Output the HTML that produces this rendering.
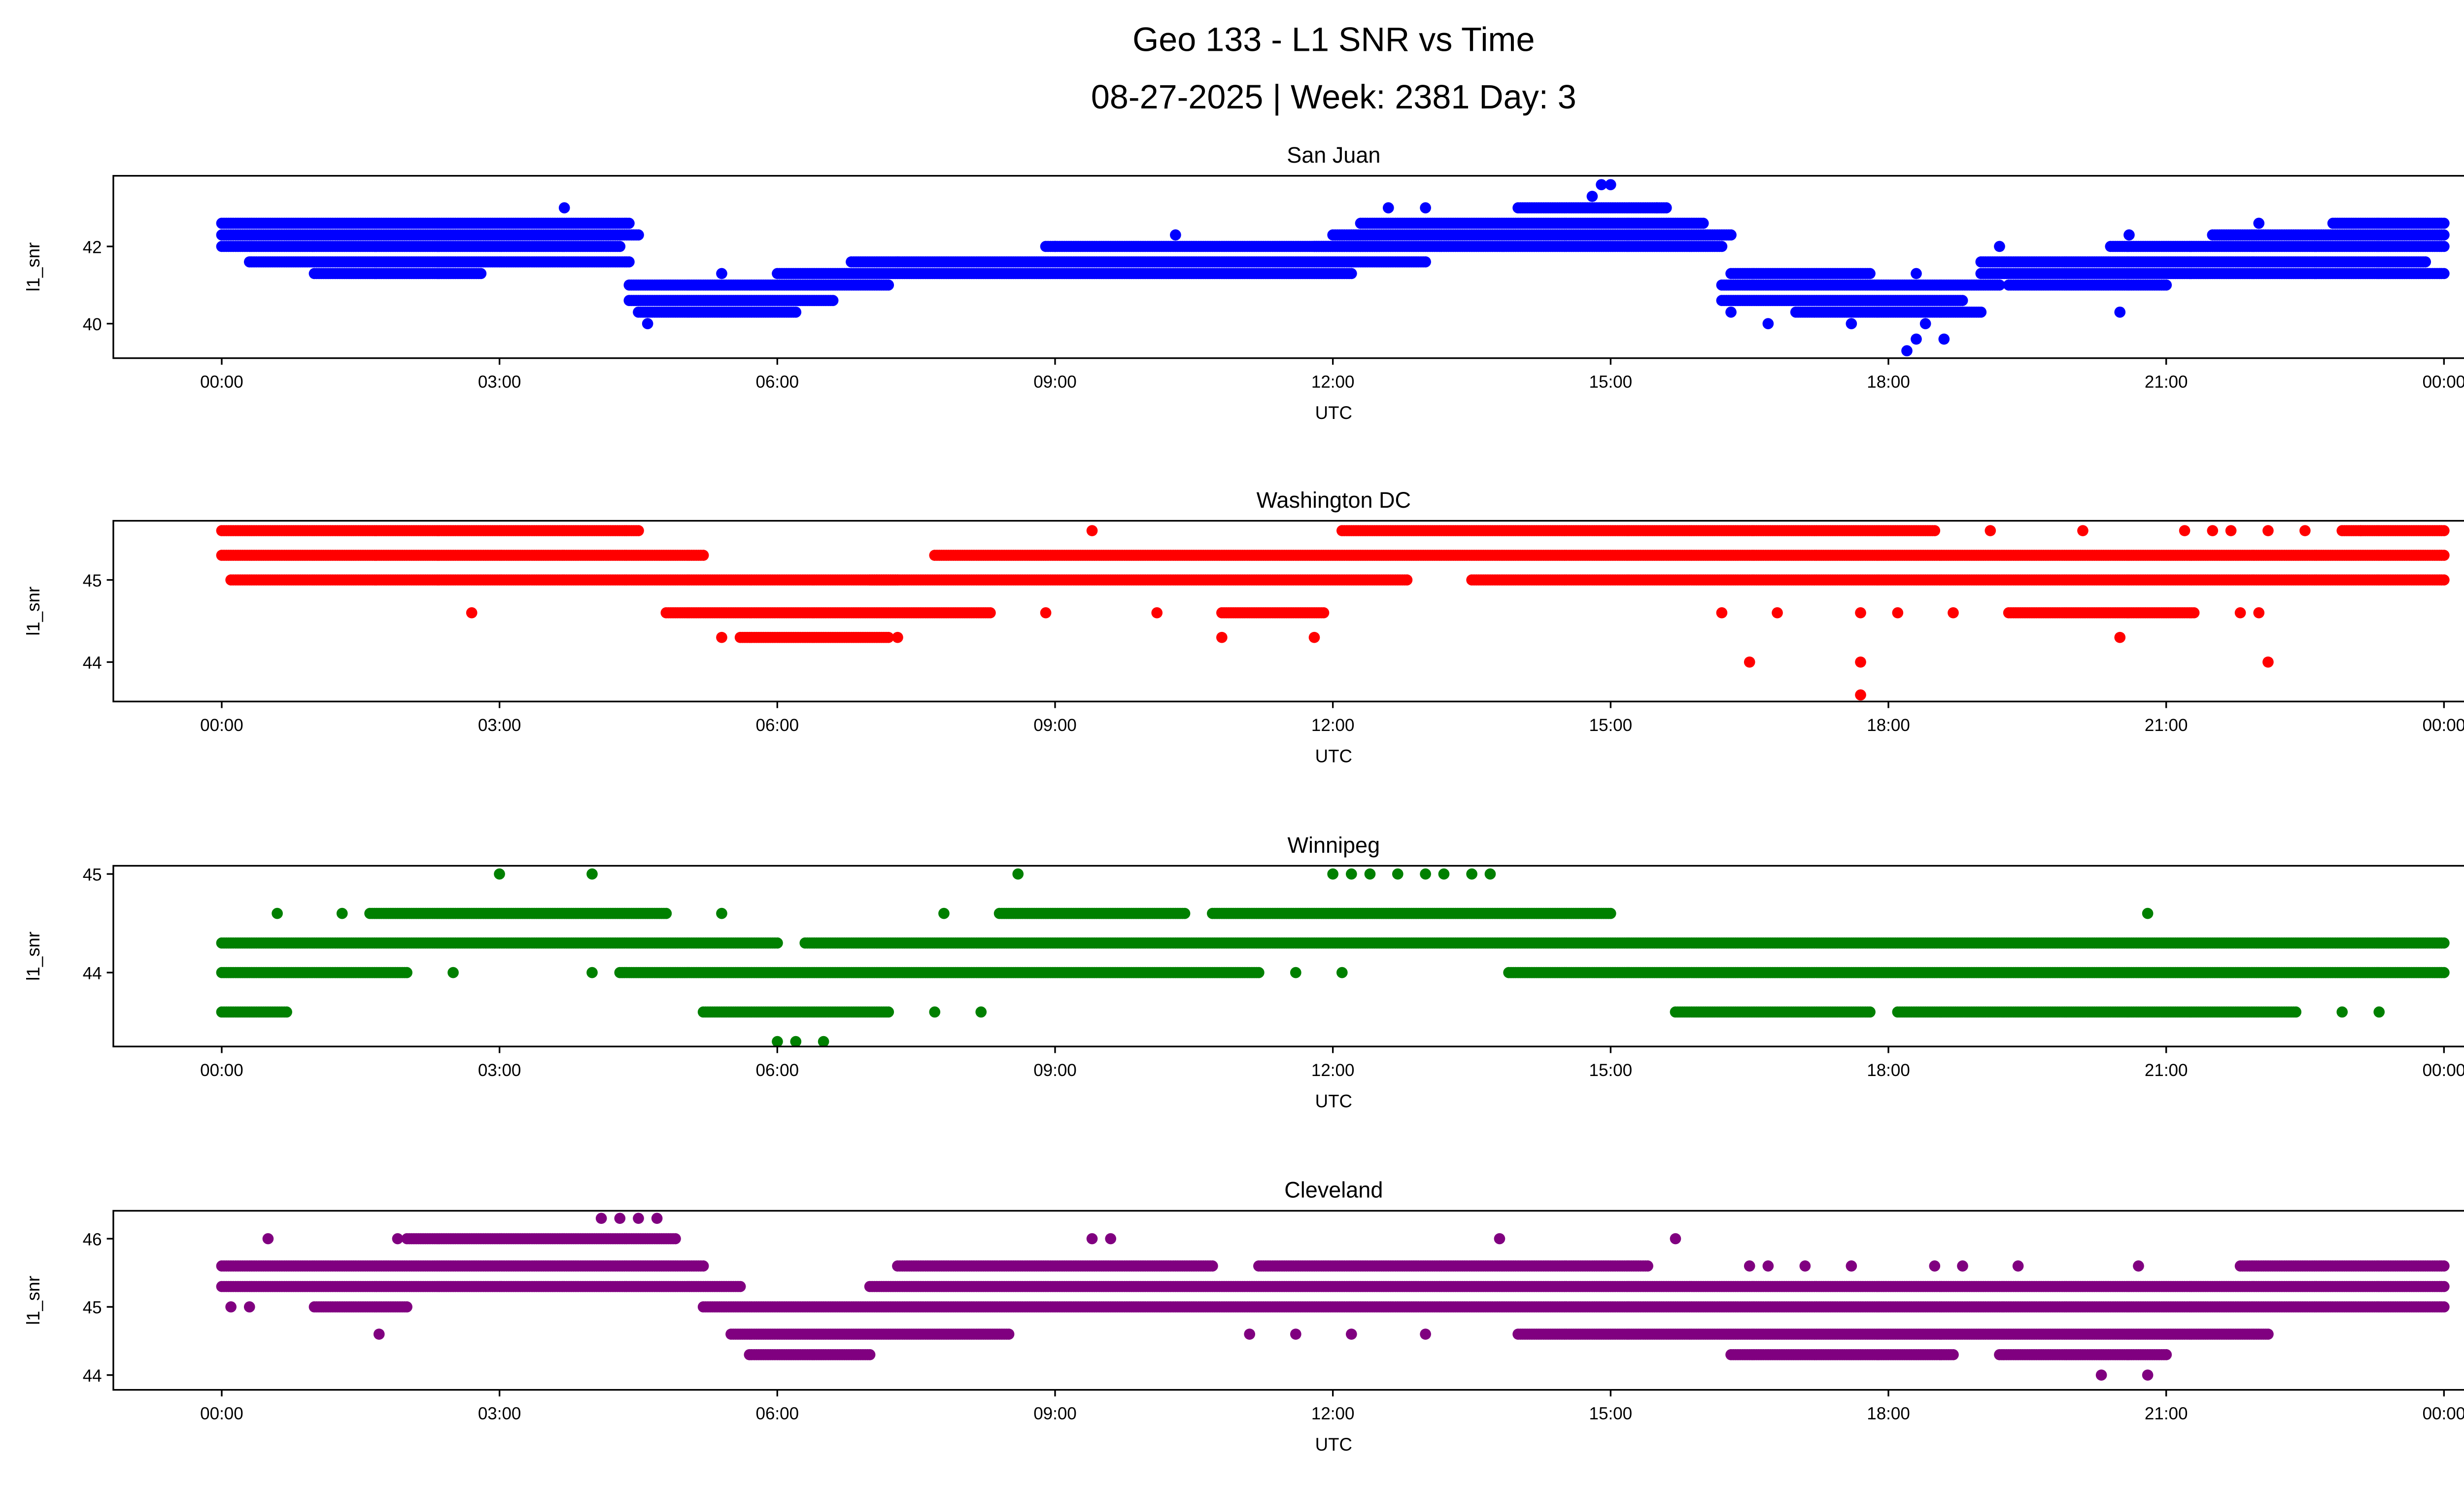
<!DOCTYPE html>
<html><head><meta charset="utf-8"><style>html,body{margin:0;padding:0;background:#fff}svg{display:block}</style></head>
<body>
<svg id="fig" xmlns="http://www.w3.org/2000/svg" width="5226" height="3033" viewBox="0 0 1568 910" font-family="'Liberation Sans', 'DejaVu Sans', sans-serif">
<rect width="1568" height="910" fill="#fff"/>
<text x="812" y="31" font-size="20.5" text-anchor="middle">Geo 133 - L1 SNR vs Time</text>
<text x="812" y="66" font-size="20.5" text-anchor="middle">08-27-2025 | Week: 2381 Day: 3</text>
</svg>
<script>
// Dense bands: [startHour, endHour, snr]
const sjBands=[[0,4.4,42.6],[0,4.5,42.3],[0,4.3,42.0],[0.3,4.4,41.6],[1,2.8,41.3],[4.4,7.2,41.0],[4.4,6.6,40.6],[4.5,6.2,40.3],[6.0,12.2,41.3],[6.8,13.0,41.6],[8.9,12.5,42.0],[12.0,16.3,42.3],[11.8,16.2,42.0],[12.3,16.0,42.6],[14.0,15.6,43.0],[16.2,19.2,41.0],[16.2,18.8,40.6],[17.0,19.0,40.3],[16.3,17.8,41.3],[19.0,24,41.3],[19.0,23.8,41.6],[19.3,21,41.0],[20.4,24,42.0],[21.5,24,42.3],[22.8,24,42.6]];
const sjPoints=[[3.7,43.0],[4.6,40.0],[5.4,41.3],[7.3,41.6],[9.0,42.0],[10.3,42.3],[12.6,43.0],[13.0,43.0],[14.8,43.3],[14.9,43.6],[15.0,43.6],[15.5,43.0],[16.3,40.3],[16.7,40.0],[17.6,40.0],[18.2,39.3],[18.3,39.6],[18.6,39.6],[18.3,41.3],[18.4,40.0],[19.2,42.0],[20.6,42.3],[22.0,42.6],[20.5,40.3]];
const dcBands=[[0,4.5,45.6],[0,5.2,45.3],[0.1,7.3,45.0],[4.8,8.3,44.6],[5.6,7.2,44.3],[7.7,24,45.3],[7.0,12.8,45.0],[13.5,24,45.0],[12.1,18.5,45.6],[10.8,11.9,44.6],[19.3,21.3,44.6],[22.9,24,45.6]];
const dcPoints=[[2.7,44.6],[5.4,44.3],[7.3,44.3],[9.4,45.6],[10.1,44.6],[10.8,44.3],[11.8,44.3],[8.9,44.6],[16.2,44.6],[16.5,44.0],[16.8,44.6],[17.7,44.6],[17.7,44.0],[17.7,43.6],[18.1,44.6],[18.7,44.6],[19.1,45.6],[20.1,45.6],[20.5,44.3],[21.2,45.6],[21.5,45.6],[21.8,44.6],[22.0,44.6],[22.1,44.0],[22.1,45.6],[22.5,45.6],[23.1,45.6],[21.7,45.6]];
const wpBands=[[0,6.0,44.3],[6.3,24,44.3],[1.6,4.8,44.6],[8.4,10.4,44.6],[10.7,15.0,44.6],[0,2.0,44.0],[4.3,11.2,44.0],[13.9,24,44.0],[0,0.7,43.6],[5.2,7.2,43.6],[18.1,22.4,43.6],[15.7,17.8,43.6]];
const wpPoints=[[0.6,44.6],[1.3,44.6],[3.0,45.0],[4.0,45.0],[5.4,44.6],[6.0,43.3],[6.2,43.3],[6.5,43.3],[7.7,43.6],[8.2,43.6],[8.6,45.0],[7.8,44.6],[12.0,45.0],[12.2,45.0],[12.4,45.0],[12.7,45.0],[13.0,45.0],[13.2,45.0],[13.5,45.0],[13.7,45.0],[11.6,44.0],[12.1,44.0],[20.8,44.6],[22.9,43.6],[23.3,43.6],[4.0,44.0],[2.5,44.0]];
const clBands=[[0,5.2,45.6],[0,5.6,45.3],[1.0,2.0,45.0],[2.0,4.9,46.0],[5.2,24,45.0],[5.5,8.5,44.6],[5.7,7.0,44.3],[7.0,24,45.3],[7.3,10.7,45.6],[11.2,15.4,45.6],[14.0,22.1,44.6],[19.2,21.0,44.3],[21.8,24,45.6],[16.3,18.7,44.3]];
const clPoints=[[0.1,45.0],[0.3,45.0],[0.5,46.0],[1.7,44.6],[1.9,46.0],[4.1,46.3],[4.3,46.3],[4.5,46.3],[4.7,46.3],[9.4,46.0],[9.6,46.0],[11.1,44.6],[11.6,44.6],[12.2,44.6],[13.8,46.0],[13.0,44.6],[15.7,46.0],[20.3,44.0],[20.8,44.0],[19.4,45.6],[18.5,45.6],[17.6,45.6],[16.5,45.6],[16.7,45.6],[17.1,45.6],[18.8,45.6],[20.7,45.6]];
const tickHours=[0,3,6,9,12,15,18,21,24];
const tickLabels=["00:00","03:00","06:00","09:00","12:00","15:00","18:00","21:00","00:00"];

const NS="http://www.w3.org/2000/svg";
const svg=document.getElementById('fig');
function el(tag,attrs,parent){const e=document.createElementNS(NS,tag);for(const k in attrs)e.setAttribute(k,attrs[k]);(parent||svg).appendChild(e);return e;}
const X0=69,X1=1555;
function xs(h){return 135+h*(1488-135)/24;}
const panels=[
 {name:'san-juan',title:'San Juan',top:107,bot:218,color:'#0000ff',bands:sjBands,pts:sjPoints,yref:[42,150,40,197],yt:[40,42],lbl:['40','42']},
 {name:'washington-dc',title:'Washington DC',top:317,bot:427,color:'#ff0000',bands:dcBands,pts:dcPoints,yref:[45,353,44,403],yt:[44,45],lbl:['44','45']},
 {name:'winnipeg',title:'Winnipeg',top:527,bot:637,color:'#008000',bands:wpBands,pts:wpPoints,yref:[45,532,44,592],yt:[44,45],lbl:['44','45']},
 {name:'cleveland',title:'Cleveland',top:737,bot:846,color:'#800080',bands:clBands,pts:clPoints,yref:[46,754,44,837],yt:[44,45,46],lbl:['44','45','46']}
];
panels.forEach(p=>{
 const g=el('g',{});
 
 
 const [v1,p1,v2,p2]=p.yref;
 const ys=v=>p1+(v-v1)*(p2-p1)/(v2-v1);
 const t=el('text',{x:812,y:p.top-8,'font-size':'13.5','text-anchor':'middle'},g);t.textContent=p.title;
 
 
 const marks=el('g',{fill:p.color},g);
 
 
 p.bands.forEach(b=>{for(let h=b[0];h<=b[1]+1e-9;h+=0.025){const c=el('circle',{cx:xs(h).toFixed(1),cy:ys(b[2]).toFixed(1),r:3.4},marks);
  
  }});
 p.pts.forEach(q=>{const c=el('circle',{cx:xs(q[0]).toFixed(1),cy:ys(q[1]).toFixed(1),r:3.4},marks);
  
  });
 const fr=el('rect',{x:X0,y:p.top,width:X1-X0,height:p.bot-p.top,fill:'none',stroke:'#000','stroke-width':1},g);
 
 
 tickHours.forEach((h,i)=>{const x=xs(h);el('line',{x1:x,x2:x,y1:p.bot,y2:p.bot+4,stroke:'#000'},g);
  const tl=el('text',{x:x,y:p.bot+18,'font-size':'10.5','text-anchor':'middle'},g);tl.textContent=tickLabels[i];
  
  });
 p.yt.forEach((v,i)=>{const y=ys(v);el('line',{x1:X0-4,x2:X0,y1:y,y2:y,stroke:'#000'},g);
  const tl=el('text',{x:X0-7,y:y+4,'font-size':'10.5','text-anchor':'end'},g);tl.textContent=p.lbl[i];
  
  });
 const xl=el('text',{x:812,y:p.bot+37,'font-size':'11','text-anchor':'middle'},g);xl.textContent='UTC';
 
 
 const ym=(p.top+p.bot)/2;
 const yl=el('text',{x:24,y:ym,'font-size':'11','text-anchor':'middle',transform:`rotate(-90 24 ${ym})`},g);yl.textContent='l1_snr';
 
 
});
</script>
</body></html>
